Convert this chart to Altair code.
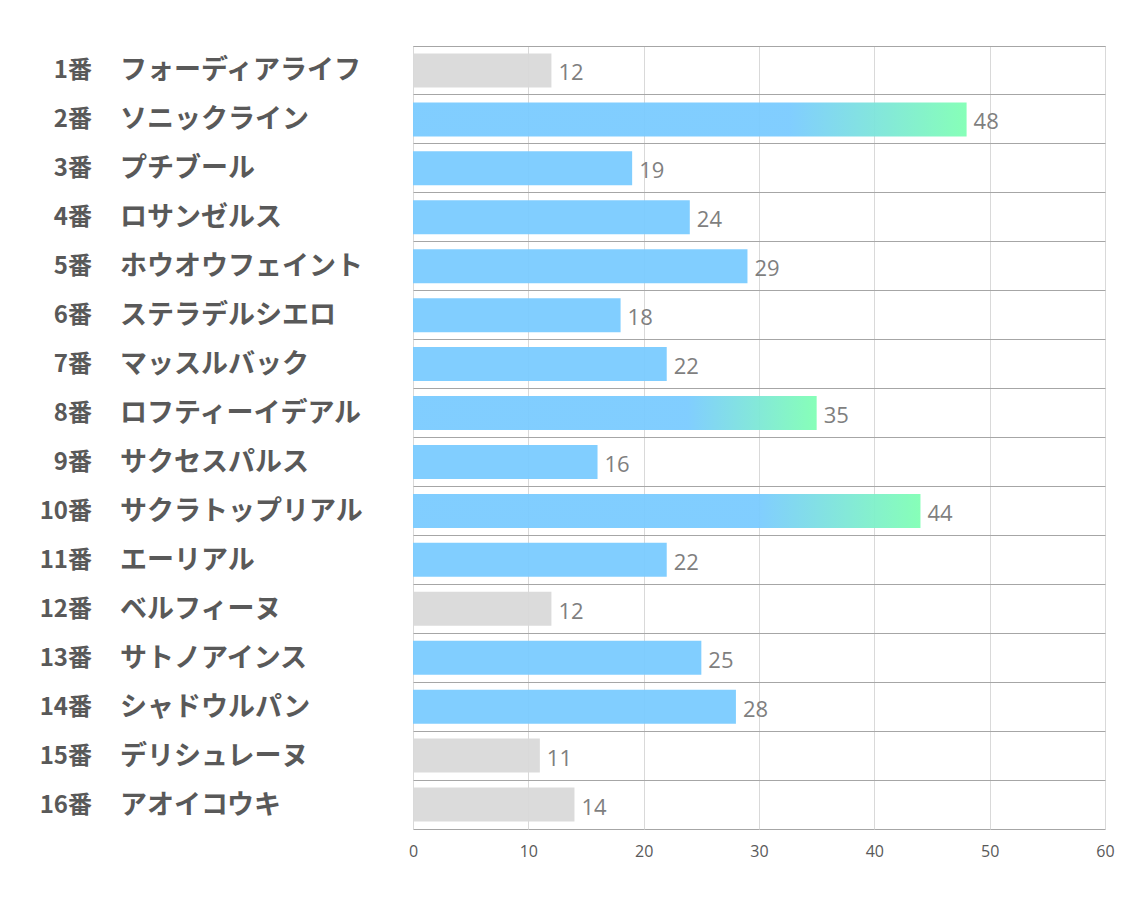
import altair as alt
import pandas as pd

numbers = [f"{i}番" for i in range(1, 17)]
names = ["フォーディアライフ", "ソニックライン", "プチブール", "ロサンゼルス", "ホウオウフェイント",
         "ステラデルシエロ", "マッスルバック", "ロフティーイデアル", "サクセスパルス", "サクラトップリアル",
         "エーリアル", "ベルフィーヌ", "サトノアインス", "シャドウルパン", "デリシュレーヌ", "アオイコウキ"]
values = [12, 48, 19, 24, 29, 18, 22, 35, 16, 44, 22, 12, 25, 28, 11, 14]

df = pd.DataFrame({"num": numbers, "name": names, "value": values})
df["key"] = df["num"] + df["name"]
order = list(df["key"])

BLUE = "#7ACBFF"
GREEN = "#80FFB4"
GRAY = "#D9D9D9"
TXT = "#595959"

y = alt.Y("key:N", sort=order, title=None,
          scale=alt.Scale(paddingInner=0, paddingOuter=0),
          axis=alt.Axis(labels=False, ticks=False, domain=False, grid=True,
                        gridColor="#A6A6A6", gridWidth=1, bandPosition=0))
x = alt.X("value:Q", title=None,
          scale=alt.Scale(domain=[0, 60], nice=False),
          axis=alt.Axis(values=[0, 10, 20, 30, 40, 50, 60], ticks=False, domain=False,
                        grid=True, gridColor="#D9D9D9", labelColor=TXT, labelFontSize=16,
                        labelFont="Open Sans", labelPadding=14, labelFlush=False))

base = alt.Chart(df)

gray_bars = base.transform_filter("datum.value <= 14").mark_bar(
    size=34, color=GRAY, fillOpacity=0.95).encode(x=x, y=y)
blue_bars = base.transform_filter("datum.value > 14 && datum.value < 35").mark_bar(
    size=34, color=BLUE, fillOpacity=0.95).encode(x=x, y=y)
grad_bars = base.transform_filter("datum.value >= 35").mark_bar(
    size=34, fillOpacity=0.95,
    color=alt.LinearGradient(gradient="linear", x1=0, x2=1, y1=0, y2=0,
                             stops=[alt.GradientStop(color=BLUE, offset=0),
                                    alt.GradientStop(color=BLUE, offset=0.68),
                                    alt.GradientStop(color=GREEN, offset=1)])).encode(x=x, y=y)

value_text = base.mark_text(align="left", baseline="middle", dx=7, dy=3, fontSize=22,
                            font="Open Sans", color="#7F7F7F").encode(
    x="value:Q", y=alt.Y("key:N", sort=order), text="value:Q")

num_text = base.mark_text(align="right", baseline="middle", dy=1, fontSize=24, fontWeight="bold",
                          font="Noto Sans CJK JP", color=TXT).encode(
    x=alt.value(-321), y=alt.Y("key:N", sort=order), text="num:N")
name_text = base.mark_text(align="left", baseline="middle", dy=1, fontSize=27, fontWeight="bold",
                           font="Noto Sans CJK JP", color=TXT).encode(
    x=alt.value(-293), y=alt.Y("key:N", sort=order), text="name:N")

chart = alt.layer(gray_bars, blue_bars, grad_bars, value_text, num_text, name_text).properties(
    width=692, height=783,
    autosize=alt.AutoSizeParams(type="none"),
    padding={"left": 413, "top": 46, "right": 29, "bottom": 78},
    background="white",
).configure_view(stroke="#A6A6A6", strokeWidth=1)

chart.save("out.html", embed_options={"renderer": "svg", "actions": False})
